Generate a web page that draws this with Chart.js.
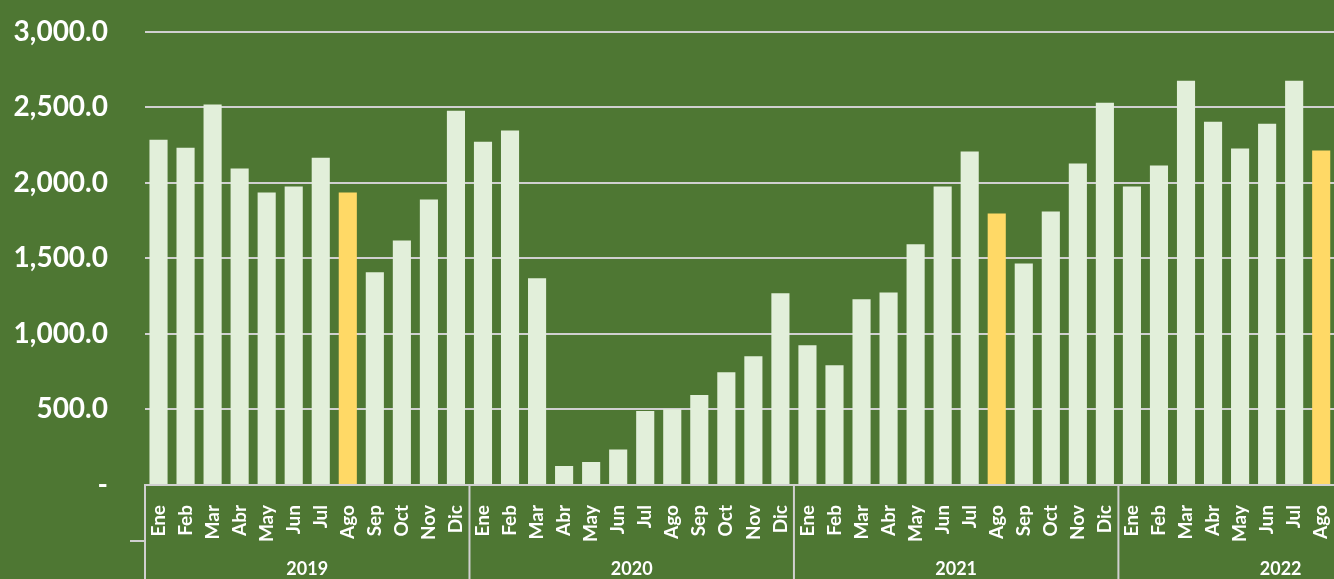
<!DOCTYPE html>
<html>
<head>
<meta charset="utf-8">
<script src="https://cdn.jsdelivr.net/npm/chart.js@4.4.0/dist/chart.umd.min.js"></script>
<style>
  html, body { margin: 0; padding: 0; background: #4E7733; overflow: hidden; }
  #wrap { position: absolute; left: 0; top: -22px; width: 1356px; height: 601px; }
</style>
</head>
<body>
<div id="wrap"><canvas id="chart"></canvas></div>
<script>
const years = ['2019', '2020', '2021', '2022'];
const monthNames = ['Ene', 'Feb', 'Mar', 'Abr', 'May', 'Jun', 'Jul', 'Ago', 'Sep', 'Oct', 'Nov', 'Dic'];
const values2019 = [2286, 2233, 2518, 2095, 1936, 1976, 2167, 1936, 1408, 1619, 1890, 2478];
const values2020 = [2273, 2346, 1368, 126, 152, 235, 490, 502, 595, 747, 852, 1269];
const values2021 = [925, 793, 1229, 1275, 1593, 1976, 2207, 1797, 1467, 1811, 2128, 2531];
const values2022 = [1976, 2115, 2676, 2405, 2227, 2392, 2676, 2214];
// bars drawn in yellow
const highlighted = ['2019-Ago', '2021-Ago', '2022-Ago'];
const yTicks = [0, 500, 1000, 1500, 2000, 2500, 3000];

const barColor = '#E2EFDA';
const hiColor = '#FFD966';
const lineColor = '#D0D0D0';
const font = 'Lato';

const series = [values2019, values2020, values2021, values2022];
const labels = [], values = [], colors = [], groups = [];
series.forEach((vals, i) => {
  groups.push({ year: years[i], start: labels.length, count: vals.length });
  vals.forEach((v, m) => {
    labels.push(monthNames[m]);
    values.push(v);
    colors.push(highlighted.includes(years[i] + '-' + monthNames[m]) ? hiColor : barColor);
  });
});

// draws the year row and the separators under the month labels
const yearGroups = {
  id: 'yearGroups',
  afterDraw(chart) {
    const ctx = chart.ctx, x = chart.scales.x, area = chart.chartArea;
    const half = (x.getPixelForValue(1) - x.getPixelForValue(0)) / 2;
    const bottom = chart.height;
    ctx.save();
    ctx.strokeStyle = lineColor;
    ctx.lineWidth = 2;
    ctx.beginPath();
    ctx.moveTo(area.left - 15, area.bottom + 56); ctx.lineTo(area.left, area.bottom + 56);
    groups.forEach(g => {
      const l = x.getPixelForValue(g.start) - half;
      ctx.moveTo(l, area.bottom); ctx.lineTo(l, bottom);
    });
    ctx.stroke();
    ctx.fillStyle = '#fff';
    ctx.font = 'bold 18px ' + font;
    ctx.textAlign = 'center';
    ctx.textBaseline = 'middle';
    groups.forEach(g => {
      const l = x.getPixelForValue(g.start) - half;
      const r = x.getPixelForValue(g.start + 11) + half;
      ctx.fillText(g.year, (l + r) / 2, bottom - 10);
    });
    ctx.restore();
  }
};

new Chart(document.getElementById('chart'), {
  type: 'bar',
  data: {
    labels: labels,
    datasets: [{
      data: values,
      backgroundColor: colors,
      borderWidth: 0,
      barPercentage: 0.67,
      categoryPercentage: 1
    }]
  },
  options: {
    responsive: true,
    maintainAspectRatio: false,
    animation: false,
    layout: { padding: { top: 9, right: 0, bottom: 0, left: 0 } },
    plugins: { legend: { display: false }, tooltip: { enabled: false } },
    scales: {
      x: {
        grid: { display: false },
        border: { display: true, color: lineColor, width: 2 },
        ticks: {
          color: '#fff', font: { family: font, size: 19, weight: 'bold' },
          minRotation: 90, maxRotation: 90, autoSkip: false, padding: 12
        },
        afterFit: s => { s.height = 94; }
      },
      y: {
        min: 0, max: 3000,
        afterBuildTicks: s => { s.ticks = yTicks.map(v => ({ value: v })); },
        grid: { color: lineColor, lineWidth: 2, drawTicks: false },
        border: { display: false },
        ticks: {
          color: '#fff', font: { family: font, size: 28, weight: 'bold' }, padding: 37,
          callback: v => v === 0 ? '-' : v.toLocaleString('en-US', { minimumFractionDigits: 1, maximumFractionDigits: 1 })
        },
        afterFit: s => { s.width = 145; }
      }
    }
  },
  plugins: [yearGroups]
});
</script>
</body>
</html>
